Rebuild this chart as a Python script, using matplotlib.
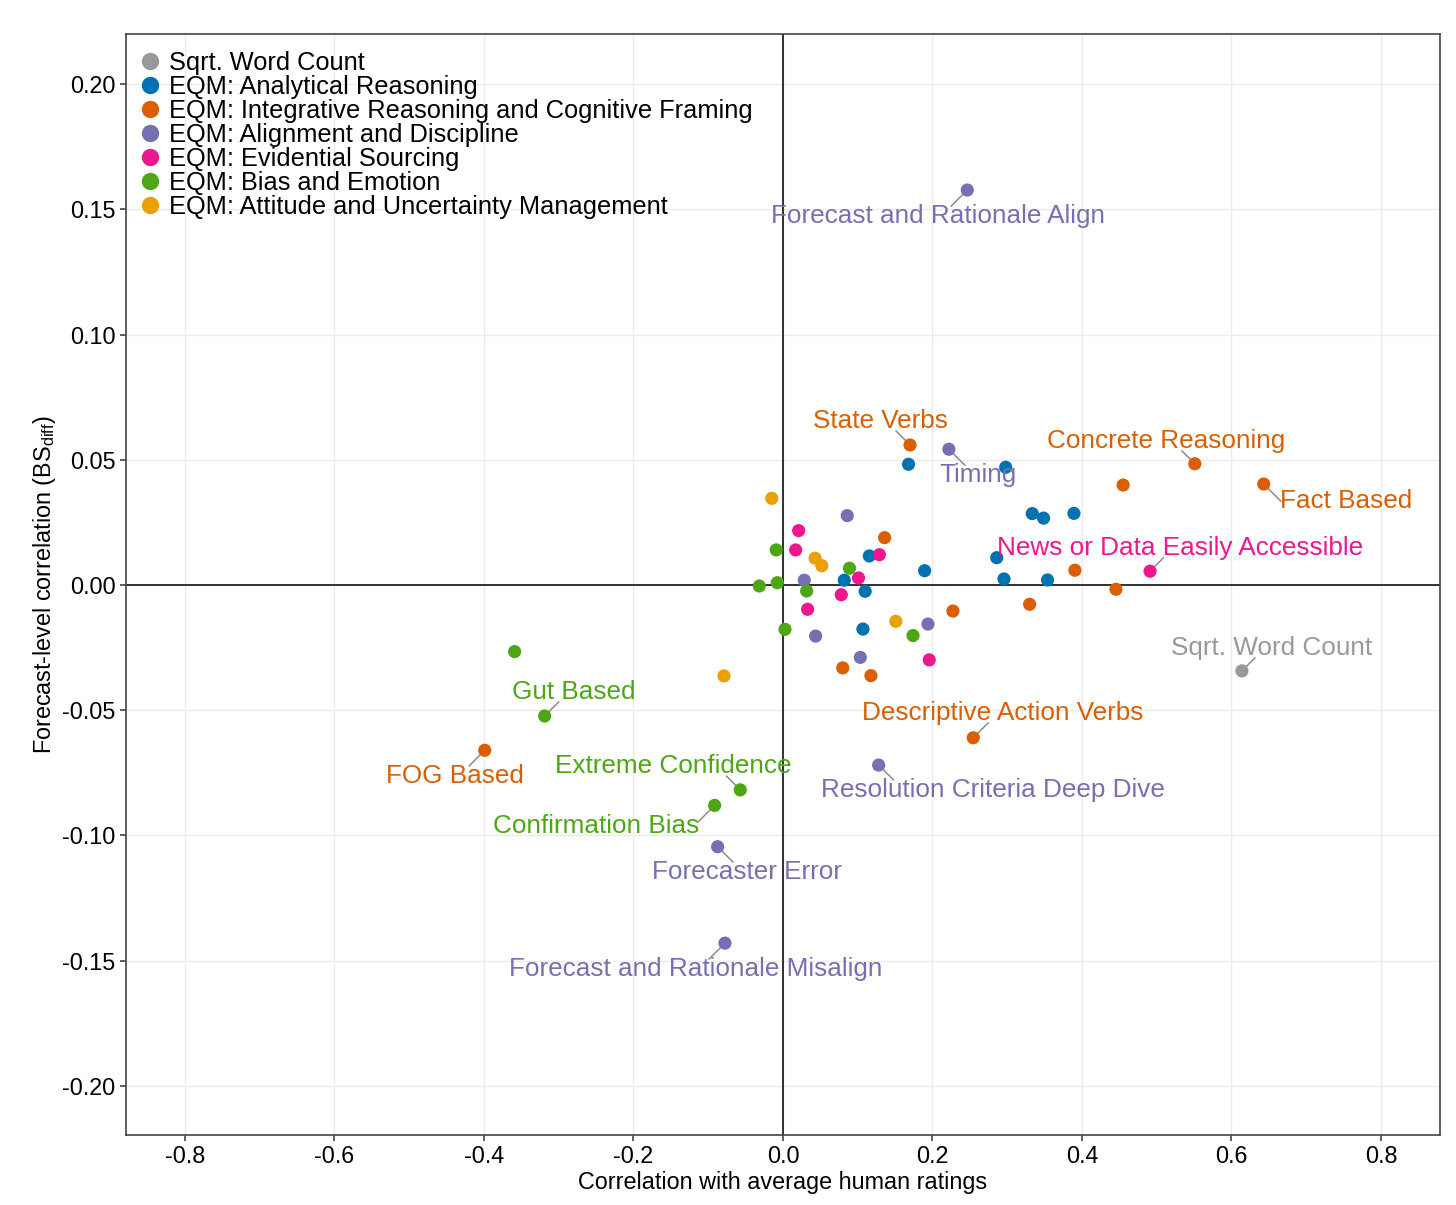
import matplotlib
matplotlib.use("Agg")
import matplotlib.pyplot as plt
from matplotlib.lines import Line2D
import numpy as np

plt.rcParams['font.family'] = ['Liberation Sans', 'DejaVu Sans']
plt.rcParams['mathtext.fontset'] = 'custom'
plt.rcParams['mathtext.rm'] = 'Liberation Sans'

# categories and colours
groups = ["Sqrt. Word Count",
          "EQM: Analytical Reasoning",
          "EQM: Integrative Reasoning and Cognitive Framing",
          "EQM: Alignment and Discipline",
          "EQM: Evidential Sourcing",
          "EQM: Bias and Emotion",
          "EQM: Attitude and Uncertainty Management"]
colors = ["#999999", "#0072B2", "#D95F02", "#7570B3", "#F0178E", "#4DA614", "#E9A000"]

# points per group (x = corr with human ratings, y = forecast-level corr BSdiff)
wc_x = [0.614]
wc_y = [-0.0343]
wc_lab = ["Sqrt. Word Count"]

ar_x = [0.168, 0.298, 0.1155, 0.1895, 0.286, 0.2957, 0.354, 0.082, 0.110, 0.107, 0.3335, 0.3486, 0.3893]
ar_y = [0.0482, 0.047, 0.0116, 0.0057, 0.0109, 0.0024, 0.002, 0.0019, -0.0025, -0.0176, 0.0285, 0.0267, 0.0286]
ar_lab = [""] * len(ar_x)

ir_x = [0.170, 0.136, 0.3906, 0.330, 0.2274, 0.080, 0.1177, 0.4551, 0.551, 0.6432, 0.4455, 0.2546, -0.399]
ir_y = [0.0559, 0.0189, 0.0059, -0.0077, -0.0104, -0.0331, -0.0362, 0.0399, 0.0484, 0.0403, -0.0017, -0.061, -0.066]
ir_lab = ["State Verbs", "", "", "", "", "", "", "", "Concrete Reasoning", "Fact Based", "",
          "Descriptive Action Verbs", "FOG Based"]

ad_x = [0.2466, 0.222, 0.086, 0.0285, 0.194, 0.0437, 0.1035, 0.128, -0.0874, -0.0776]
ad_y = [0.1577, 0.0542, 0.0277, 0.0019, -0.0156, -0.0204, -0.0289, -0.0719, -0.1045, -0.143]
ad_lab = ["Forecast and Rationale Align", "Timing", "", "", "", "", "",
          "Resolution Criteria Deep Dive", "Forecaster Error", "Forecast and Rationale Misalign"]

es_x = [0.021, 0.017, 0.129, 0.101, 0.078, 0.033, 0.1957, 0.4911]
es_y = [0.0217, 0.014, 0.0121, 0.0028, -0.0039, -0.0097, -0.0299, 0.0055]
es_lab = ["", "", "", "", "", "", "", "News or Data Easily Accessible"]

be_x = [-0.009, 0.089, -0.0317, -0.0076, 0.0317, 0.0027, 0.174, -0.359, -0.3188, -0.0571, -0.0914]
be_y = [0.014, 0.0067, -0.0004, 0.0009, -0.0024, -0.0177, -0.0202, -0.0266, -0.0523, -0.0818, -0.088]
be_lab = ["", "", "", "", "", "", "", "", "Gut Based", "Extreme Confidence", "Confirmation Bias"]

au_x = [-0.015, 0.043, 0.052, 0.151, -0.0789]
au_y = [0.0346, 0.0107, 0.0077, -0.0145, -0.0363]
au_lab = [""] * len(au_x)

all_x = [wc_x, ar_x, ir_x, ad_x, es_x, be_x, au_x]
all_y = [wc_y, ar_y, ir_y, ad_y, es_y, be_y, au_y]
all_lab = [wc_lab, ar_lab, ir_lab, ad_lab, es_lab, be_lab, au_lab]

# where the repelled labels sit (layout only)
label_pos = {
    "Forecast and Rationale Align": (0.2074, 0.1473),
    "State Verbs": (0.1298, 0.0655),
    "Timing": (0.2609, 0.0439),
    "Concrete Reasoning": (0.5124, 0.0575),
    "Fact Based": (0.7532, 0.0335),
    "News or Data Easily Accessible": (0.5311, 0.0148),
    "Sqrt. Word Count": (0.6542, -0.0251),
    "Descriptive Action Verbs": (0.2943, -0.0511),
    "Resolution Criteria Deep Dive": (0.2810, -0.0818),
    "Gut Based": (-0.2796, -0.0427),
    "FOG Based": (-0.4388, -0.0762),
    "Extreme Confidence": (-0.1472, -0.0723),
    "Confirmation Bias": (-0.2501, -0.0962),
    "Forecaster Error": (-0.0482, -0.1146),
    "Forecast and Rationale Misalign": (-0.1164, -0.1533),
}

fig = plt.figure(figsize=(14.56, 12.05), dpi=100)
ax = fig.add_subplot(111)
fig.subplots_adjust(left=0.0865, right=0.989, top=0.9718, bottom=0.0581)

ax.set_axisbelow(True)
ax.grid(True, color="#EBEBEB", linewidth=1)
ax.axhline(0, color="#222222", linewidth=1.3, zorder=1)
ax.axvline(0, color="#222222", linewidth=1.3, zorder=1)

texts = []
for gx, gy, gl, c in zip(all_x, all_y, all_lab, colors):
    ax.scatter(gx, gy, s=90, color=c, edgecolors="none", zorder=3)
    for px, py, lab in zip(gx, gy, gl):
        if lab == "":
            continue
        lx, ly = label_pos[lab]
        t = ax.text(lx, ly, lab, ha="center", va="center", color=c, fontsize=18.8, zorder=4)
        texts.append((t, px, py))

ax.set_xlim(-0.879, 0.879)
ax.set_ylim(-0.2196, 0.22)
ax.set_xticks([-0.8, -0.6, -0.4, -0.2, 0.0, 0.2, 0.4, 0.6, 0.8])
ax.set_yticks([-0.20, -0.15, -0.10, -0.05, 0.00, 0.05, 0.10, 0.15, 0.20])
ax.set_yticklabels(["-0.20", "-0.15", "-0.10", "-0.05", "0.00", "0.05", "0.10", "0.15", "0.20"])
ax.set_xticklabels(["-0.8", "-0.6", "-0.4", "-0.2", "0.0", "0.2", "0.4", "0.6", "0.8"])
ax.tick_params(axis="both", labelsize=16.8, colors="#333333", labelcolor="black",
               length=4, width=1.1, direction="out")
for sp in ax.spines.values():
    sp.set_color("#444444")
    sp.set_linewidth(1.2)

ax.set_xlabel("Correlation with average human ratings", fontsize=16.8, labelpad=2)
ax.set_ylabel("Forecast-level correlation (BS$_{\\mathrm{diff}}$)", fontsize=16.8, labelpad=3)

handles = [Line2D([0], [0], marker="o", linestyle="none", markersize=12.5,
                  markerfacecolor=c, markeredgecolor="none") for c in colors]
leg = ax.legend(handles, groups, loc="upper left", bbox_to_anchor=(-0.0068, 1.0027),
                frameon=False, fontsize=18.3, labelspacing=0.0, handletextpad=0.25,
                handlelength=1.0, borderaxespad=0.4)

# connector segments: diagonal from the point until it meets the label box
fig.canvas.draw()
renderer = fig.canvas.get_renderer()
inv = ax.transData.inverted()
for t, px, py in texts:
    bb = t.get_window_extent(renderer)
    x0, y0, x1, y1 = bb.x0 + 1, bb.y0 + 2, bb.x1 - 1, bb.y1 - 2
    dx, dy = ax.transData.transform((px, py))
    tcx, tcy = (bb.x0 + bb.x1) / 2, (bb.y0 + bb.y1) / 2
    sx = np.sign(tcx - dx)
    sy = np.sign(tcy - dy)
    gx_ = 0 if x0 <= dx <= x1 else min(abs(dx - x0), abs(dx - x1))
    gy_ = 0 if y0 <= dy <= y1 else min(abs(dy - y0), abs(dy - y1))
    m = max(gx_, gy_)
    if m < 8:
        continue
    ex, ey = dx + sx * m, dy + sy * m
    r = 5 / np.sqrt(2)
    p1 = inv.transform((dx + sx * r, dy + sy * r))
    p2 = inv.transform((ex, ey))
    ax.plot([p1[0], p2[0]], [p1[1], p2[1]], color="#8C8C8C", lw=1.1, zorder=2.5)

plt.savefig("out.png", dpi=100)
